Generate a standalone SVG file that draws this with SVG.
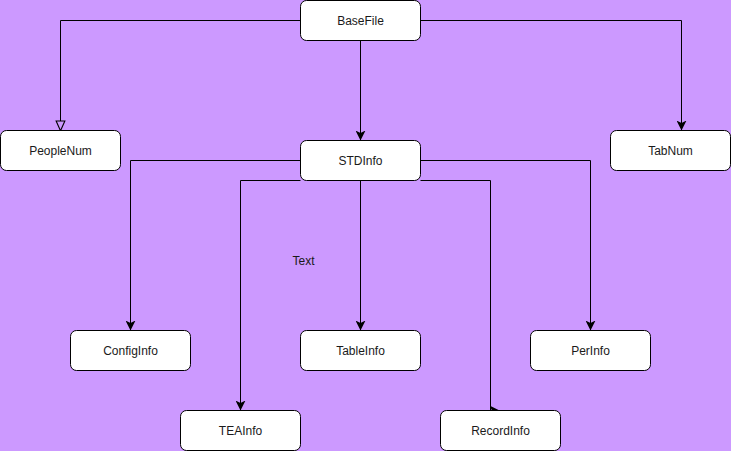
<svg xmlns="http://www.w3.org/2000/svg" width="731" height="451" viewBox="0 0 731 451">
<defs>
<style>
.node rect{fill:#ffffff;stroke:#000000;stroke-width:1}
.node text,.label{font-family:"Liberation Sans",Arial,sans-serif;font-size:12px;fill:#1a1a1a;text-anchor:middle;dominant-baseline:central}
.edge{fill:none;stroke:#000000;stroke-width:1}
</style>
<marker id="arrow" markerUnits="userSpaceOnUse" markerWidth="10" markerHeight="10" viewBox="0 0 8 8" refX="8" refY="4" orient="auto">
<path d="M0,0 L8,4 L0,8 L2,4 Z" fill="#000000"/>
</marker>
<marker id="openBlock" markerUnits="userSpaceOnUse" markerWidth="12" markerHeight="12" viewBox="-1 -1 11 11" refX="0" refY="4" orient="auto">
<path d="M0,0 L9,4 L0,8 Z" fill="none" stroke="#000000" stroke-width="1"/>
</marker>
</defs>
<rect x="0" y="0" width="731" height="451" fill="#cc99ff"/>
<g id="connectors">
<path class="edge" d="M300.5,20.5 H60.5 V121" marker-end="url(#openBlock)"/>
<path class="edge" d="M360.5,40.5 V140.5" marker-end="url(#arrow)"/>
<path class="edge" d="M420.5,20.5 H681.5 V130.5" marker-end="url(#arrow)"/>
<path class="edge" d="M300.5,160.5 H130.5 V330.5" marker-end="url(#arrow)"/>
<path class="edge" d="M300.5,180.5 H240.5 V410.5" marker-end="url(#arrow)"/>
<path class="edge" d="M360.5,180.5 V330.5" marker-end="url(#arrow)"/>
<path class="edge" d="M420.5,160.5 H590.5 V330.5" marker-end="url(#arrow)"/>
<path class="edge" d="M420.5,180.5 H490.5 V410.5 H499.5" marker-end="url(#arrow)"/>
</g>
<g id="BaseFile" class="node"><rect x="300.5" y="0.5" width="120" height="40" rx="6"/><text x="360.5" y="20.5">BaseFile</text></g>
<g id="PeopleNum" class="node"><rect x="0.5" y="130.5" width="120" height="40" rx="6"/><text x="60.5" y="150.5">PeopleNum</text></g>
<g id="STDInfo" class="node"><rect x="300.5" y="140.5" width="120" height="40" rx="6"/><text x="360.5" y="160.5">STDInfo</text></g>
<g id="TabNum" class="node"><rect x="610.5" y="130.5" width="120" height="40" rx="6"/><text x="670.5" y="150.5">TabNum</text></g>
<g id="ConfigInfo" class="node"><rect x="70.5" y="330.5" width="120" height="40" rx="6"/><text x="130.5" y="350.5">ConfigInfo</text></g>
<g id="TableInfo" class="node"><rect x="300.5" y="330.5" width="120" height="40" rx="6"/><text x="360.5" y="350.5">TableInfo</text></g>
<g id="PerInfo" class="node"><rect x="530.5" y="330.5" width="120" height="40" rx="6"/><text x="590.5" y="350.5">PerInfo</text></g>
<g id="TEAInfo" class="node"><rect x="180.5" y="410.5" width="120" height="40" rx="6"/><text x="240.5" y="430.5">TEAInfo</text></g>
<g id="RecordInfo" class="node"><rect x="440.5" y="410.5" width="120" height="40" rx="6"/><text x="500.5" y="430.5">RecordInfo</text></g>
<g id="TextLabel"><text class="label" x="303.5" y="260.5">Text</text></g>
</svg>
